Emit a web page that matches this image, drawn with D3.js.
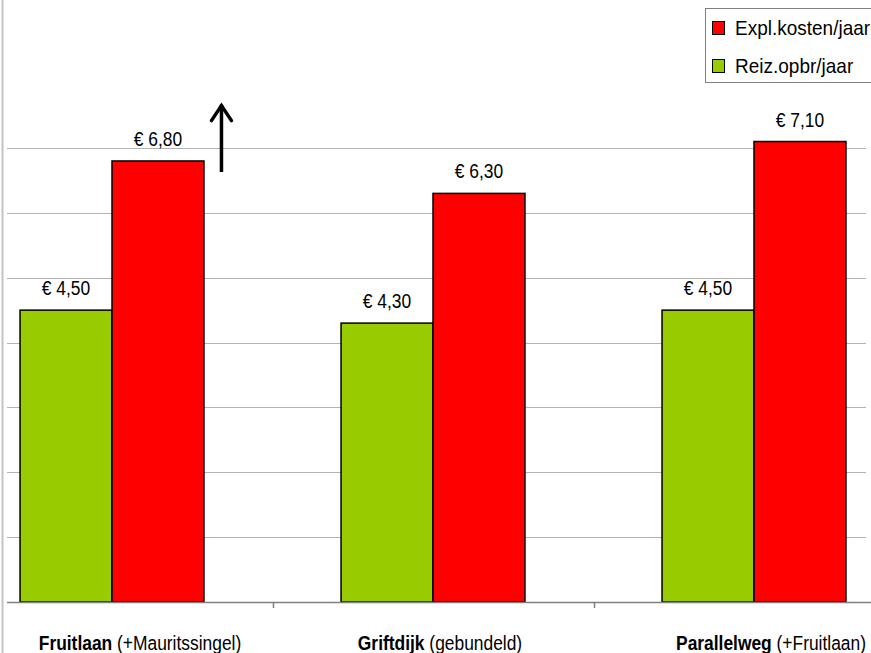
<!DOCTYPE html>
<html>
<head>
<meta charset="utf-8">
<script src="https://cdn.jsdelivr.net/npm/d3@7"></script>
<style>
  html, body { margin: 0; padding: 0; background: #fff; }
  svg { display: block; font-family: "Liberation Sans", Arial, sans-serif; }
</style>
</head>
<body>
<svg id="chart" width="871" height="653"></svg>
<script>
// Route names (bold part) and their qualifier
const categories = ["Fruitlaan", "Griftdijk", "Parallelweg"];
const qualifiers = ["(+Mauritssingel)", "(gebundeld)", "(+Fruitlaan)"];

// Series drawn per category, left to right
const seriesNames = ["Reiz.opbr/jaar", "Expl.kosten/jaar"];
const reizOpbr    = [4.50, 4.30, 4.50];
const explKosten  = [6.80, 6.30, 7.10];

const gridTicks = [1, 2, 3, 4, 5, 6, 7];

const colors = { "Reiz.opbr/jaar": "#99CC00", "Expl.kosten/jaar": "#FF0000" };
const labelNudge = [28, 7, 17];   // horizontal offset of category captions
const squeeze = 0.87;             // condensed type

const svg = d3.select("#chart");
const W = 871, H = 653;

const plotLeft = 7, plotRight = 866;
const x = d3.scaleBand().domain(categories).range([-48.5, 914.5]).paddingInner(0);
const y = d3.scaleLinear().domain([0, 7]).range([602, 148]);

const groupW = x.bandwidth() * 0.573;
const xs = d3.scaleBand().domain(seriesNames).range([-groupW / 2, groupW / 2]);

const fmt = v => "€ " + d3.format(".2f")(v).replace(".", ",");

// left frame line
svg.append("line")
  .attr("x1", 2.5).attr("x2", 2.5).attr("y1", 0).attr("y2", H)
  .attr("stroke", "#c4c4c4").attr("stroke-width", 2);

// horizontal gridlines
svg.append("g").selectAll("line").data(gridTicks).join("line")
  .attr("x1", plotLeft).attr("x2", plotRight)
  .attr("y1", d => Math.round(y(d)) + 0.5).attr("y2", d => Math.round(y(d)) + 0.5)
  .attr("stroke", "#b3b3b3").attr("stroke-width", 1);

// bars
const rows = categories.map((c, i) => ({
  cat: c,
  values: [
    { key: seriesNames[0], value: reizOpbr[i] },
    { key: seriesNames[1], value: explKosten[i] }
  ]
}));

const groups = svg.append("g").selectAll("g").data(rows).join("g")
  .attr("transform", d => `translate(${x(d.cat) + x.bandwidth() / 2},0)`);

groups.selectAll("rect").data(d => d.values).join("rect")
  .attr("x", d => xs(d.key))
  .attr("width", xs.bandwidth())
  .attr("y", d => y(d.value))
  .attr("height", d => y(0) - y(d.value))
  .attr("fill", d => colors[d.key])
  .attr("stroke", "#000").attr("stroke-width", 1.5);

// value labels
groups.selectAll("g.val").data(d => d.values).join("g")
  .attr("class", "val")
  .attr("transform", d => `translate(${xs(d.key) + xs.bandwidth() / 2},${y(d.value) - 15}) scale(${squeeze},1)`)
  .append("text")
  .attr("text-anchor", "middle")
  .attr("font-size", 20)
  .attr("fill", "#000")
  .text(d => fmt(d.value));

// category axis
svg.append("line")
  .attr("x1", plotLeft).attr("x2", W).attr("y1", y(0) + 0.5).attr("y2", y(0) + 0.5)
  .attr("stroke", "#7f7f7f").attr("stroke-width", 1.5);

const boundaries = categories.slice(1).map(c => x(c));
svg.append("g").selectAll("line").data(boundaries).join("line")
  .attr("x1", d => Math.round(d) + 0.5).attr("x2", d => Math.round(d) + 0.5)
  .attr("y1", y(0)).attr("y2", y(0) + 6)
  .attr("stroke", "#7f7f7f").attr("stroke-width", 1.5);

// category captions
const cap = svg.append("g").selectAll("g").data(categories).join("g")
  .attr("transform", (d, i) => `translate(${x(d) + x.bandwidth() / 2 + labelNudge[i]},650) scale(0.87,1)`)
  .append("text")
  .attr("text-anchor", "middle")
  .attr("font-size", 20)
  .attr("fill", "#000");
cap.append("tspan").attr("font-weight", "bold").text(d => d);
cap.append("tspan").text((d, i) => " " + qualifiers[i]);

// upward arrow beside the first red bar
const arrowX = x(categories[0]) + x.bandwidth() / 2 + xs(seriesNames[1]) + xs.bandwidth() + 17.5;
const arrowBottom = y(explKosten[0]) + 11;
const arrowTop = y(7.7);
svg.append("line")
  .attr("x1", arrowX).attr("x2", arrowX).attr("y1", arrowBottom).attr("y2", arrowTop + 2)
  .attr("stroke", "#000").attr("stroke-width", 3.5);
svg.append("path")
  .attr("d", `M${arrowX - 10},${arrowTop + 18} L${arrowX},${arrowTop + 3} L${arrowX + 10},${arrowTop + 18}`)
  .attr("fill", "none").attr("stroke", "#000").attr("stroke-width", 3.5)
  .attr("stroke-linejoin", "miter").attr("stroke-linecap", "round");

// legend
const legend = svg.append("g");
legend.append("rect")
  .attr("x", 705.5).attr("y", 8.5).attr("width", 200).attr("height", 74)
  .attr("fill", "#fff").attr("stroke", "#808080").attr("stroke-width", 1);

const legendOrder = [seriesNames[1], seriesNames[0]];
const li = legend.selectAll("g.item").data(legendOrder).join("g")
  .attr("class", "item")
  .attr("transform", (d, i) => `translate(712,${21 + i * 38})`);
li.append("rect")
  .attr("x", 0.5).attr("y", 0.5).attr("width", 12).attr("height", 13)
  .attr("fill", d => colors[d]).attr("stroke", "#000").attr("stroke-width", 1);
li.append("g")
  .attr("transform", "translate(23,14) scale(0.95,1)")
  .append("text")
  .attr("font-size", 20)
  .attr("fill", "#000")
  .text(d => d);
</script>
</body>
</html>
